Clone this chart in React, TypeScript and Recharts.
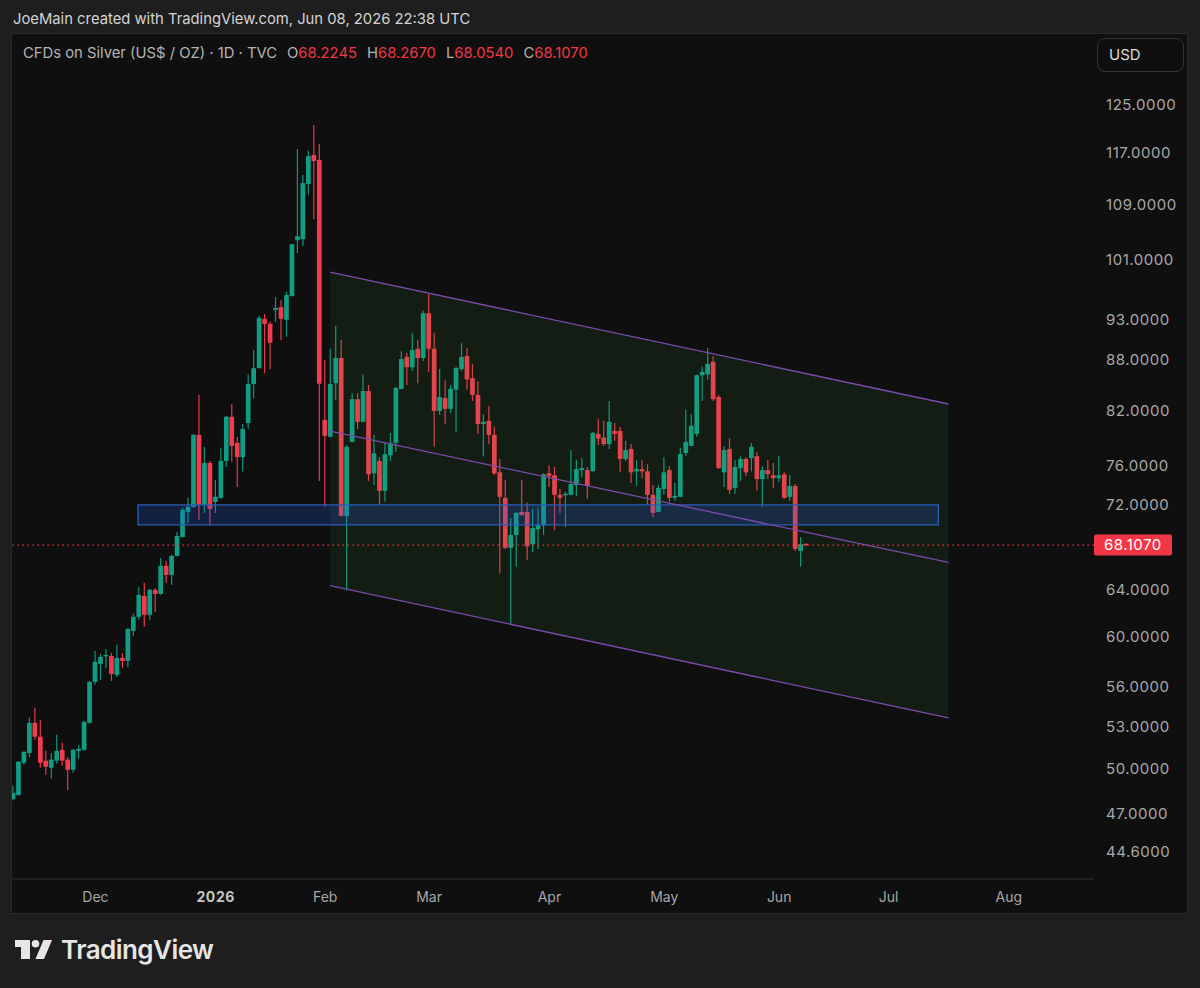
import React from 'react';
import { ComposedChart, Bar, XAxis, YAxis, ReferenceArea, ReferenceLine } from 'recharts';

const opens = [
  47.97, 48.24, 50.44, 51.12, 53.29, 52.28, 50.58, 50.09, 50.58, 51.34,
  50.65, 49.95, 51.27, 51.34, 53.29, 56.39, 57.81, 58.45, 58.45, 56.93,
  58.29, 58.05, 60.5, 61.69, 63.5, 61.86, 64.03, 63.67, 66.19, 65.36,
  67.1, 68.87, 71.3, 71.8, 79.3, 72.0, 76.28, 72.3, 72.7, 76.5,
  81.3, 78.43, 76.9, 80.6, 85.06, 86.95, 93.07, 92.43, 94.22, 94.6,
  92.95, 96.04, 103.74, 103.88, 112.1, 116.7, 115.9, 80.96, 79.1, 85.16,
  88.17, 70.9, 78.54, 83.3, 80.74, 84.25, 75.2, 76.5, 73.4, 77.1,
  78.43, 84.5, 88.3, 87.05, 89.3, 88.17, 93.8, 89.3, 81.97, 83.43,
  82.2, 84.4, 86.83, 88.4, 85.75, 83.8, 80.5, 80.85, 79.3, 75.3,
  72.7, 67.84, 69.06, 71.3, 71.3, 68.2, 69.6, 70.0, 75.2, 75.0,
  73.0, 73.0, 73.0, 74.0, 75.53, 75.53, 75.42, 79.4, 79.0, 78.3,
  79.74, 79.74, 76.7, 77.77, 75.4, 75.64, 75.4, 73.0, 71.3, 73.6,
  75.53, 72.7, 72.8, 77.34, 78.1, 79.4, 86.1, 86.2, 87.7, 83.55,
  75.3, 77.77, 73.7, 75.75, 76.7, 76.8, 77.0, 74.6, 75.53, 75.0,
  74.7, 75.1, 72.8, 73.9, 67.56, 68.2245,
];
const highs = [
  48.86, 50.55, 51.25, 53.66, 54.41, 53.51, 51.27, 51.12, 52.42, 51.84,
  50.84, 51.41, 51.7, 53.44, 56.47, 58.85, 58.61, 59.01, 58.69, 59.35,
  58.69, 60.75, 61.95, 64.25, 64.65, 64.12, 64.2, 66.91, 66.65, 67.2,
  69.34, 71.7, 72.7, 79.4, 83.8, 78.0, 76.5, 74.5, 77.9, 81.4,
  82.75, 79.1, 80.5, 86.2, 89.15, 93.45, 93.7, 92.7, 95.9, 95.5,
  96.6, 103.2, 117.66, 113.5, 117.35, 121.6, 118.5, 87.9, 89.3, 92.17,
  90.4, 78.2, 84.0, 84.0, 86.2, 84.95, 79.3, 76.9, 78.43, 79.5,
  84.7, 89.0, 88.8, 91.3, 90.4, 94.1, 96.3, 91.3, 86.83, 85.5,
  84.95, 87.1, 90.0, 89.4, 87.45, 85.4, 81.6, 82.5, 80.2, 76.7,
  74.5, 70.7, 71.3, 74.5, 72.2, 71.6, 71.7, 75.2, 76.05, 75.85,
  73.6, 73.3, 77.66, 76.6, 76.8, 75.85, 79.6, 81.07, 80.85, 83.1,
  80.6, 80.2, 78.65, 78.3, 76.6, 76.6, 76.15, 74.0, 74.0, 76.9,
  75.95, 74.2, 77.9, 82.08, 81.6, 86.2, 87.1, 89.4, 88.4, 83.8,
  78.1, 78.9, 76.6, 77.0, 76.9, 78.43, 77.45, 75.95, 76.6, 76.28,
  77.0, 75.3, 75.0, 74.1, 68.85, 68.267,
];
const lows = [
  47.9, 48.2, 50.3, 50.84, 52.06, 50.09, 49.6, 49.33, 50.37, 50.23,
  48.58, 49.74, 50.72, 51.3, 53.25, 56.16, 56.55, 57.49, 56.47, 56.78,
  57.49, 57.57, 60.09, 61.43, 60.83, 61.43, 62.1, 63.6, 64.65, 64.45,
  67.05, 68.8, 70.2, 71.7, 70.5, 71.2, 70.0, 71.2, 72.6, 75.85,
  76.4, 73.8, 75.4, 79.96, 83.4, 86.9, 86.35, 86.83, 92.7, 90.4,
  90.8, 96.0, 101.9, 102.9, 110.5, 106.8, 74.4, 71.8, 79.05, 83.2,
  70.85, 64.0, 78.5, 79.96, 80.7, 74.4, 74.0, 72.0, 72.3, 76.5,
  77.45, 84.45, 84.95, 86.6, 85.16, 87.8, 86.5, 78.0, 81.5, 80.5,
  81.75, 79.6, 86.6, 84.4, 83.1, 79.4, 77.0, 78.3, 75.0, 65.5,
  67.75, 61.1, 66.1, 70.95, 66.7, 67.47, 67.75, 69.06, 73.8, 69.53,
  71.2, 69.8, 72.95, 72.9, 74.8, 72.6, 75.4, 78.2, 78.1, 77.77,
  78.65, 75.3, 76.5, 74.2, 73.9, 74.7, 72.0, 70.8, 71.25, 73.0,
  72.3, 72.4, 72.75, 77.0, 78.05, 79.1, 83.1, 85.6, 83.1, 75.64,
  73.8, 73.1, 73.1, 74.4, 74.9, 75.4, 73.4, 71.8, 74.6, 73.7,
  74.3, 72.6, 72.4, 67.56, 66.1, 68.054,
];
const closes = [
  48.38, 50.51, 51.2, 53.29, 52.28, 50.44, 50.16, 50.65, 51.27, 50.58,
  49.95, 51.34, 51.41, 53.36, 56.39, 57.97, 58.37, 58.53, 57.01, 58.29,
  58.05, 60.67, 61.69, 63.58, 61.86, 64.03, 63.67, 66.19, 65.36, 67.1,
  68.97, 71.5, 71.8, 79.3, 72.0, 76.28, 71.6, 72.8, 76.5, 81.3,
  78.1, 76.9, 79.96, 85.06, 86.95, 93.2, 92.43, 90.05, 94.48, 93.07,
  96.18, 103.16, 104.3, 112.25, 116.5, 115.7, 85.1, 79.2, 85.06, 88.17,
  70.9, 77.99, 83.3, 80.74, 84.25, 75.1, 77.3, 73.4, 77.2, 78.43,
  84.6, 88.05, 87.05, 89.15, 88.17, 93.8, 89.3, 81.97, 83.55, 82.2,
  84.5, 86.95, 88.3, 85.6, 83.8, 80.5, 80.74, 79.3, 75.2, 72.8,
  67.84, 69.06, 71.2, 71.0, 68.0, 69.72, 70.0, 75.1, 74.9, 73.0,
  72.7, 73.1, 74.1, 75.64, 75.75, 73.9, 79.5, 78.9, 78.3, 80.74,
  79.4, 76.7, 77.66, 75.3, 75.64, 75.4, 73.0, 71.2, 73.7, 75.3,
  72.7, 72.9, 77.23, 78.54, 80.3, 86.1, 86.5, 87.45, 83.3, 75.75,
  77.66, 73.5, 75.85, 76.7, 75.3, 78.0, 74.6, 75.53, 75.1, 74.7,
  75.0, 72.7, 73.9, 67.75, 68.2, 68.107,
];

const priceTicks = [125, 117, 109, 101, 93, 88, 82, 76, 72, 64, 60, 56, 53, 50, 47, 44.6];
const monthTicks = [15, 37, 57, 76, 98, 119, 140, 160, 182];
const monthLabels = ['Dec', '2026', 'Feb', 'Mar', 'Apr', 'May', 'Jun', 'Jul', 'Aug'];

const lastPrice = 68.107;
const zoneTop = 72;
const zoneBottom = 70.04;
const zoneFrom = 22.8;
const zoneTo = 169.1;

const channelFrom = 57.9;
const channelTo = 170.95;
const upperLine = [99.27, 82.75];
const middleLine = [79.7, 66.5];
const lowerLine = [64.4, 53.65];

const UP = '#0f9d84';
const DOWN = '#f23b4c';

const candles = opens.map((open, i) => ({
  i,
  open,
  close: closes[i],
  high: highs[i],
  low: lows[i],
  range: [lows[i], highs[i]],
}));

// the bar spans low..high, open and close are placed inside it on the log scale
const Candle = (props: any) => {
  const { x, y, width, height, payload } = props;
  const { open, close, high, low } = payload;
  const at = (v: number) => y + (height * (Math.log(high) - Math.log(v))) / (Math.log(high) - Math.log(low));
  const color = close >= open ? UP : DOWN;
  const top = at(Math.max(open, close));
  const bottom = at(Math.min(open, close));
  const mid = x + width / 2;
  return (
    <g>
      <line x1={mid} x2={mid} y1={y} y2={y + height} stroke={color} strokeWidth={1.2} strokeOpacity={0.95} />
      <rect x={x} y={top} width={width} height={Math.max(bottom - top, 1.4)} fill={color} />
    </g>
  );
};

const ChannelFill = (props: any) => {
  const { x, y, width, height } = props;
  const total = Math.log(upperLine[0]) - Math.log(lowerLine[1]);
  const at = (v: number) => y + (height * (Math.log(upperLine[0]) - Math.log(v))) / total;
  const points = [
    [x, at(upperLine[0])],
    [x + width, at(upperLine[1])],
    [x + width, at(lowerLine[1])],
    [x, at(lowerLine[0])],
  ];
  return <polygon points={points.map((p) => p.join(',')).join(' ')} fill="#4caf50" fillOpacity={0.09} />;
};

const PriceTag = (props: any) => {
  const { viewBox } = props;
  const left = viewBox.x + viewBox.width;
  return (
    <g>
      <rect x={left} y={viewBox.y - 10.5} width={78} height={21} rx={2} fill="#f23645" />
      <text x={left + 10} y={viewBox.y + 5} fill="#ffffff" fontSize={15} letterSpacing={0.5} fontFamily="Inter">
        {lastPrice.toFixed(4)}
      </text>
    </g>
  );
};

const MonthTick = (props: any) => {
  const { x, payload } = props;
  const label = monthLabels[monthTicks.indexOf(payload.value)];
  const year = label === '2026';
  return (
    <text
      x={x}
      y={897 - 35 + 5}
      textAnchor="middle"
      fontFamily="Inter"
      fontSize={14}
      fontWeight={year ? 700 : 400}
      letterSpacing={year ? 0.6 : 0}
      fill={year ? '#c4c4c4' : '#a6a6a6'}
    >
      {label}
    </text>
  );
};

const textStyle: React.CSSProperties = { position: 'absolute', fontFamily: 'Inter', whiteSpace: 'nowrap' };

export default function App() {
  return (
    <div style={{ position: 'absolute', left: 0, top: 0, width: 1200, height: 988, background: '#1e1e1e', overflow: 'hidden' }}>
      <div style={{ ...textStyle, left: 13, top: 10, fontSize: 14.8, color: '#d4d4d4' }}>
        JoeMain created with TradingView.com, Jun 08, 2026 22:38 UTC
      </div>
      <div
        style={{
          position: 'absolute',
          left: 12,
          top: 34,
          width: 1175,
          height: 879,
          background: '#0f0f0f',
          boxShadow: '0 0 0 1px #2a2a2a',
        }}
      />
      <div style={{ position: 'absolute', left: 12, top: 35 }}>
        <ComposedChart
          width={1175}
          height={878}
          data={candles}
          margin={{ top: 0, right: 0, bottom: 0, left: 0 }}
        >
          <XAxis
            dataKey="i"
            type="number"
            scale="linear"
            domain={[-0.25, 197.56]}
            allowDataOverflow
            ticks={monthTicks}
            interval={0}
            height={34}
            tick={<MonthTick />}
            tickLine={false}
            axisLine={{ stroke: '#2e2e2e' }}
          />
          <YAxis
            orientation="right"
            scale="log"
            domain={[42.96, 137.7]}
            allowDataOverflow
            ticks={priceTicks}
            interval={0}
            width={93}
            tickLine={false}
            axisLine={false}
            tickMargin={6}
            tick={{ fill: '#a8a8a8', fontSize: 15, fontFamily: 'Inter', textAnchor: 'start', letterSpacing: 0.55 }}
            tickFormatter={(v: number) => v.toFixed(4)}
          />
          <Bar dataKey="range" barSize={4.7} shape={<Candle />} isAnimationActive={false} />
          <ReferenceArea
            x1={channelFrom}
            x2={channelTo}
            y1={lowerLine[1]}
            y2={upperLine[0]}
            shape={<ChannelFill />}
            zIndex={700}
          />
          <ReferenceArea
            x1={zoneFrom}
            x2={zoneTo}
            y1={zoneBottom}
            y2={zoneTop}
            fill="#2962ff"
            fillOpacity={0.2}
            stroke="#2a5cb8"
            strokeWidth={1.4}
            strokeOpacity={1}
            zIndex={710}
          />
          <ReferenceLine
            segment={[{ x: channelFrom, y: upperLine[0] }, { x: channelTo, y: upperLine[1] }]}
            stroke="#7a4bab"
            strokeWidth={1.3}
            zIndex={720}
          />
          <ReferenceLine
            segment={[{ x: channelFrom, y: middleLine[0] }, { x: channelTo, y: middleLine[1] }]}
            stroke="#7a4bab"
            strokeWidth={1.3}
            zIndex={720}
          />
          <ReferenceLine
            segment={[{ x: channelFrom, y: lowerLine[0] }, { x: channelTo, y: lowerLine[1] }]}
            stroke="#7a4bab"
            strokeWidth={1.3}
            zIndex={720}
          />
          <ReferenceLine
            y={lastPrice}
            stroke="#f23645"
            strokeWidth={1.2}
            strokeDasharray="1.5 3.5"
            label={<PriceTag />}
            zIndex={730}
          />
        </ComposedChart>
      </div>
      <div style={{ ...textStyle, left: 23, top: 44, fontSize: 14.8, color: '#b4b4b4' }}>
        CFDs on Silver (US$ / OZ) · 1D · TVC
      </div>
      <div style={{ ...textStyle, left: 287, top: 44, fontSize: 14.8, color: '#b4b4b4' }}>
        O<span style={{ color: '#f23645' }}>68.2245</span>
        <span style={{ marginLeft: 10 }}>H</span>
        <span style={{ color: '#f23645' }}>68.2670</span>
        <span style={{ marginLeft: 10 }}>L</span>
        <span style={{ color: '#f23645' }}>68.0540</span>
        <span style={{ marginLeft: 10 }}>C</span>
        <span style={{ color: '#f23645' }}>68.1070</span>
      </div>
      <div
        style={{
          position: 'absolute',
          left: 1097,
          top: 38,
          width: 85,
          height: 32,
          border: '1px solid #353535',
          borderRadius: 8,
          background: '#0f0f0f',
        }}
      />
      <div style={{ ...textStyle, left: 1109, top: 45, fontSize: 15, color: '#dcdcdc' }}>USD</div>
      <svg style={{ position: 'absolute', left: 15, top: 940 }} width={38} height={20}>
        <path d="M0 0H15V19H6V7H0Z" fill="#e6e6e6" />
        <circle cx={20.5} cy={3.8} r={3.8} fill="#e6e6e6" />
        <path d="M28.5 0H37L29 19H20.5Z" fill="#e6e6e6" />
      </svg>
      <div style={{ ...textStyle, left: 61, top: 934, fontSize: 26, fontWeight: 600, letterSpacing: -0.55, color: '#e6e6e6' }}>
        TradingView
      </div>
    </div>
  );
}
